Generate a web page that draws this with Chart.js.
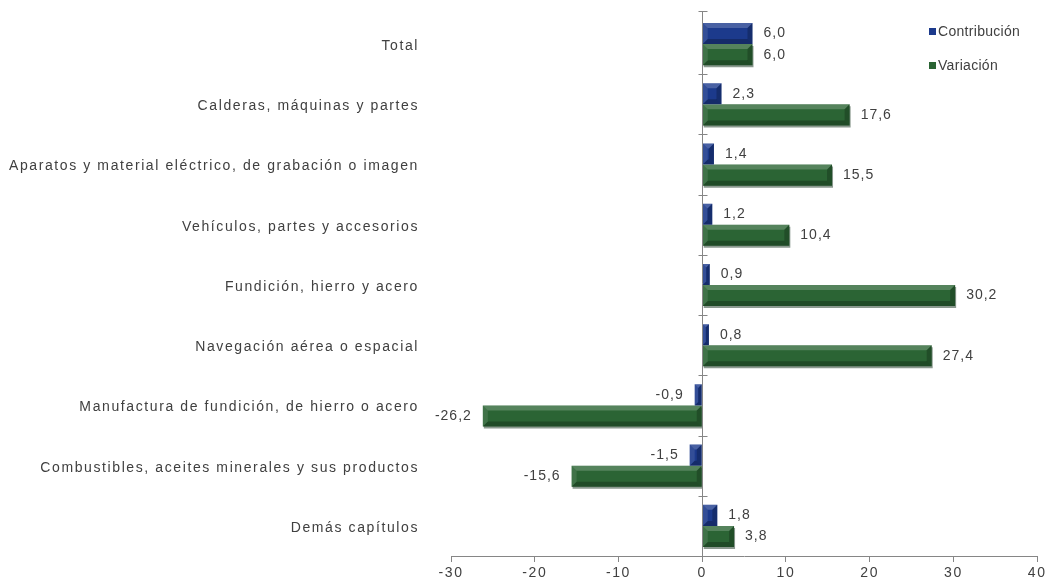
<!DOCTYPE html>
<html>
<head>
<meta charset="utf-8">
<script src="https://cdn.jsdelivr.net/npm/chart.js@4.4.1/dist/chart.umd.min.js"></script>
<style>
  html, body { margin: 0; padding: 0; background: #fff; }
  #wrap { position: relative; width: 1048px; height: 583px; }
  .legend-item {
    position: absolute;
    left: 929px;
    font: 14px "Liberation Sans", Arial, sans-serif;
    color: #404040;
    line-height: 16px;
    letter-spacing: 0.3px;
  }
  .legend-item span {
    display: inline-block;
    width: 7px;
    height: 7px;
    margin-right: 2px;
    vertical-align: 1px;
  }
</style>
</head>
<body>
<div id="wrap">
  <canvas id="chart" width="1048" height="583"></canvas>
  <div class="legend-item" style="top:23px"><span style="background:#1c3a8c"></span>Contribución</div>
  <div class="legend-item" style="top:57px"><span style="background:#2b6434"></span>Variación</div>
</div>
<script>
const categories = [
  'Total',
  'Calderas, máquinas y partes',
  'Aparatos y material eléctrico, de grabación o imagen',
  'Vehículos, partes y accesorios',
  'Fundición, hierro y acero',
  'Navegación aérea o espacial',
  'Manufactura de fundición, de hierro o acero',
  'Combustibles, aceites minerales y sus productos',
  'Demás capítulos',
];
const contribucion = [6.0, 2.3, 1.4, 1.2, 0.9, 0.8, -0.9, -1.5, 1.8];
const variacion = [6.0, 17.6, 15.5, 10.4, 30.2, 27.4, -26.2, -15.6, 3.8];
const xTicks = [-30, -20, -10, 0, 10, 20, 30, 40];

const TEXT = '#404040';
const AXIS = '#868686';
const FONT = '"Liberation Sans", Arial, sans-serif';

const fmt = (v) => v.toFixed(1).replace('.', ',');

// bevel look of the bars (light top edge, dark bottom edge)
function drawBevel(ctx, el) {
  const { x, y, base, height } = el.getProps(['x', 'y', 'base', 'height'], true);
  const l = Math.min(x, base);
  const r = Math.max(x, base);
  const t = y - height / 2;
  const b = y + height / 2;
  const s = Math.min(5, height / 2, (r - l) / 2);
  const poly = (pts, color) => {
    ctx.beginPath();
    ctx.moveTo(pts[0][0], pts[0][1]);
    for (const p of pts.slice(1)) ctx.lineTo(p[0], p[1]);
    ctx.closePath();
    ctx.fillStyle = color;
    ctx.fill();
  };
  poly([[l, t], [r, t], [r - s, t + s], [l + s, t + s]], 'rgba(255,255,255,0.2)');
  poly([[l, b], [r, b], [r - s, b - s], [l + s, b - s]], 'rgba(0,0,0,0.25)');
  poly([[l, t], [l + s, t + s], [l + s, b - s], [l, b]], 'rgba(255,255,255,0.10)');
  poly([[r, t], [r - s, t + s], [r - s, b - s], [r, b]], 'rgba(0,0,0,0.22)');
}

const chartPlugin = {
  id: 'excelLook',
  beforeDraw(chart) {
    chart.ctx.letterSpacing = '1.6px';
  },
  beforeDatasetDraw(chart, args) {
    const ctx = chart.ctx;
    ctx.save();
    if (args.index === 1) {
      ctx.shadowColor = 'rgba(90,110,95,0.7)';
      ctx.shadowOffsetX = 1;
      ctx.shadowOffsetY = 2;
      ctx.shadowBlur = 0;
    }
  },
  afterDatasetDraw(chart) {
    chart.ctx.restore();
  },
  afterDatasetsDraw(chart) {
    const ctx = chart.ctx;
    const xs = chart.scales.x;
    const ys = chart.scales.y;
    const area = chart.chartArea;

    ctx.save();
    chart.data.datasets.forEach((ds, i) => {
      chart.getDatasetMeta(i).data.forEach((el) => drawBevel(ctx, el));
    });

    // zero axis line with category boundary ticks
    const x0 = Math.round(xs.getPixelForValue(0)) + 0.5;
    ctx.strokeStyle = AXIS;
    ctx.lineWidth = 1;
    ctx.beginPath();
    ctx.moveTo(x0, area.top - 3);
    ctx.lineTo(x0, area.bottom);
    const step = (ys.bottom - ys.top) / categories.length;
    for (let i = 0; i < categories.length; i += 1) {
      const yb = Math.round(ys.top + i * step) + 0.5 - (i === 0 ? 3 : 0);
      ctx.moveTo(x0 - 4, yb);
      ctx.lineTo(x0 + 5, yb);
    }
    ctx.stroke();

    // value labels
    ctx.letterSpacing = '1px';
    ctx.font = `14px ${FONT}`;
    ctx.fillStyle = TEXT;
    ctx.textBaseline = 'middle';
    chart.data.datasets.forEach((ds, i) => {
      chart.getDatasetMeta(i).data.forEach((el, j) => {
        const v = ds.data[j];
        ctx.textAlign = v < 0 ? 'right' : 'left';
        ctx.fillText(fmt(v), v < 0 ? el.x - 11 : el.x + 11, el.y);
      });
    });
    ctx.restore();
  },
};

new Chart(document.getElementById('chart'), {
  type: 'bar',
  data: {
    labels: categories,
    datasets: [
      {
        label: 'Contribución',
        data: contribucion,
        backgroundColor: '#1c3a8c',
        categoryPercentage: 0.7,
        barPercentage: 1.0,
      },
      {
        label: 'Variación',
        data: variacion,
        backgroundColor: '#2b6434',
        categoryPercentage: 0.7,
        barPercentage: 1.0,
      },
    ],
  },
  options: {
    indexAxis: 'y',
    responsive: false,
    animation: false,
    layout: { padding: { top: 14, right: 10, left: 0, bottom: 0 } },
    plugins: {
      legend: { display: false },
      tooltip: { enabled: false },
    },
    scales: {
      x: {
        min: -30,
        max: 40,
        afterBuildTicks: (scale) => {
          scale.ticks = xTicks.map((v) => ({ value: v }));
        },
        afterFit: (scale) => {
          scale.height = 27;
        },
        grid: {
          drawOnChartArea: false,
          drawTicks: true,
          tickLength: 6,
          tickColor: AXIS,
        },
        border: { display: true, color: AXIS },
        ticks: {
          color: TEXT,
          padding: 3,
          maxRotation: 0,
          font: { family: FONT, size: 14 },
        },
      },
      y: {
        afterFit: (scale) => {
          scale.width = 451;
          scale.paddingTop = 0;
          scale.paddingBottom = 0;
        },
        grid: {
          display: true,
          drawOnChartArea: false,
          drawTicks: true,
          tickLength: 32,
          tickColor: 'rgba(0,0,0,0)',
        },
        border: { display: false },
        ticks: {
          color: TEXT,
          padding: 0,
          labelOffset: 2,
          autoSkip: false,
          font: { family: FONT, size: 14 },
        },
      },
    },
  },
  plugins: [chartPlugin],
});
</script>
</body>
</html>
